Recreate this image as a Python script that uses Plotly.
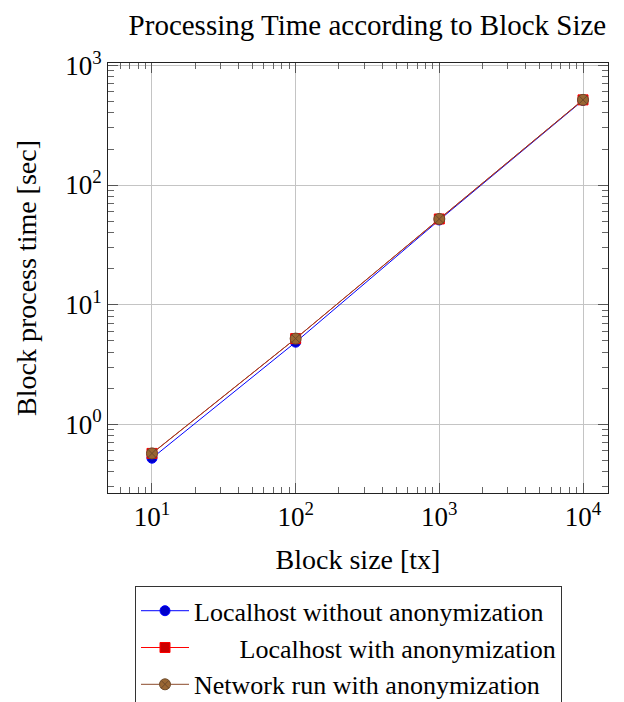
import plotly.graph_objects as go

block_size = [10, 100, 1000, 10000]
local_no_anon = [0.52, 4.85, 51, 510]
local_anon = [0.57, 5.2, 52, 515]
network_anon = [0.57, 5.2, 52, 515]

x_tickvals = [10, 100, 1000, 10000]
x_ticktext = ["10<sup>1</sup>", "10<sup>2</sup>", "10<sup>3</sup>", "10<sup>4</sup>"]
y_tickvals = [1, 10, 100, 1000]
y_ticktext = ["10<sup>0</sup>", "10<sup>1</sup>", "10<sup>2</sup>", "10<sup>3</sup>"]
x_minor = [m * d for d in [1, 10, 100, 1000] for m in range(2, 10)]
y_minor = [m * d for d in [0.1, 1, 10, 100] for m in range(2, 10)]

FONT = "Liberation Serif"
NB = "\u00a0"

fig = go.Figure()
fig.add_trace(go.Scatter(
    x=block_size, y=local_no_anon, mode="lines+markers",
    name="Localhost without anonymization",
    line=dict(color="#0000FF", width=1),
    marker=dict(symbol="circle", size=10, color="#0000CC", line=dict(color="#0000FF", width=1)),
))
fig.add_trace(go.Scatter(
    x=block_size, y=local_anon, mode="lines+markers",
    name=NB * 7 + "Localhost with anonymization",
    line=dict(color="#FF0000", width=1),
    marker=dict(symbol="square", size=10, color="#CC0000", line=dict(color="#FF0000", width=1)),
))
fig.add_trace(go.Scatter(
    x=block_size, y=network_anon, mode="lines+markers",
    name="Network run with anonymization",
    line=dict(color="#8B4A2B", width=1),
    marker=dict(symbol="circle-x", size=11, color="#996633", line=dict(color="#6E4A2A", width=1)),
))

axis_common = dict(
    type="log", showline=True, linecolor="#222222", linewidth=1, mirror="allticks",
    ticks="inside", ticklen=10, tickcolor="#555555", automargin=False,
    showgrid=True, gridcolor="#C4C4C4", gridwidth=1, zeroline=False,
    tickfont=dict(family=FONT, size=27, color="black"),
)

fig.update_xaxes(
    **axis_common,
    range=[0.694, 4.174],
    tickvals=x_tickvals, ticktext=x_ticktext,
    minor=dict(ticks="inside", ticklen=6, tickcolor="#666666", showgrid=False, tickvals=x_minor),
    title=dict(text="Block size [tx]", font=dict(family=FONT, size=28, color="black"), standoff=17),
)
fig.update_yaxes(
    **axis_common,
    range=[-0.575, 3.02],
    tickvals=y_tickvals, ticktext=y_ticktext,
    minor=dict(ticks="inside", ticklen=6, tickcolor="#666666", showgrid=False, tickvals=y_minor),
    title=dict(text="Block process time [sec]", font=dict(family=FONT, size=28, color="black"), standoff=20),
)

fig.update_layout(
    width=624, height=702,
    margin=dict(l=100, r=24, t=55, b=217, autoexpand=False),
    paper_bgcolor="white", plot_bgcolor="white",
    font=dict(family=FONT, color="black"),
    title=dict(text="Processing Time according to Block Size", x=0.576, xanchor="center",
               xref="container", yref="container", y=0.976, yanchor="middle",
               font=dict(family=FONT, size=29, color="black")),
    showlegend=True,
    legend=dict(
        x=0.054, y=-0.217, xanchor="left", yanchor="top",
        bgcolor="white", bordercolor="#333333", borderwidth=1,
        font=dict(family=FONT, size=26, color="black"),
        tracegroupgap=0, itemwidth=48,
    ),
)

fig.write_html("out.html")
